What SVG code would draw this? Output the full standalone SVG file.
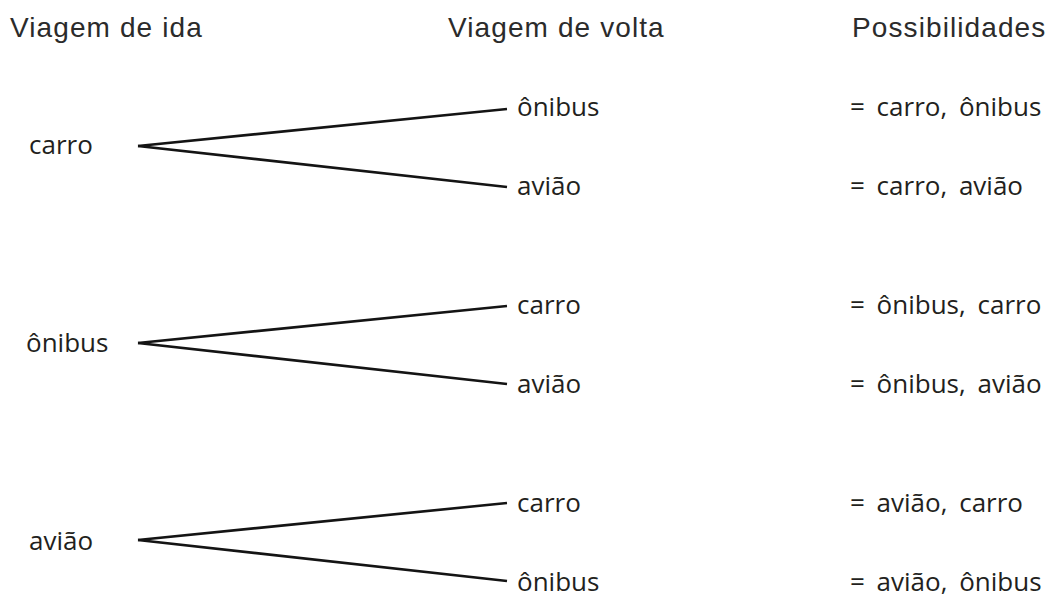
<svg xmlns="http://www.w3.org/2000/svg" width="1047" height="599" viewBox="0 0 1047 599">
<style>
.h{font-family:"Liberation Sans",Arial,sans-serif;font-size:28px;letter-spacing:1.1px;fill:#2b2b2b}
.t{font-family:"Open Sans","Noto Sans",sans-serif;font-size:26px;fill:#231f20}
.r{word-spacing:5px}
.c line{stroke:#141414;stroke-width:2.6;stroke-linecap:butt}
</style>
<rect width="1047" height="599" fill="#ffffff"/>
<g id="headers">
<text class="h" x="10" y="37">Viagem de ida</text>
<text class="h" x="448" y="37">Viagem de volta</text>
<text class="h" x="852" y="37">Possibilidades</text>
</g>
<g class="c" id="connectors">
<line x1="138" y1="146" x2="507" y2="109"/>
<line x1="138" y1="146" x2="507" y2="187"/>
<line x1="138" y1="343" x2="507" y2="306"/>
<line x1="138" y1="343" x2="507" y2="384"/>
<line x1="138" y1="540" x2="507" y2="503"/>
<line x1="138" y1="540" x2="507" y2="581"/>
</g>
<g id="n-carro"><text class="t" x="29" y="154">carro</text></g>
<g id="n-onibus"><text class="t" x="26" y="352">ônibus</text></g>
<g id="n-aviao"><text class="t" x="29" y="550">avião</text></g>
<g id="n-carro-onibus"><text class="t" x="517" y="116">ônibus</text></g>
<g id="n-carro-aviao"><text class="t" x="517" y="195">avião</text></g>
<g id="n-onibus-carro"><text class="t" x="517" y="314">carro</text></g>
<g id="n-onibus-aviao"><text class="t" x="517" y="393">avião</text></g>
<g id="n-aviao-carro"><text class="t" x="517" y="512">carro</text></g>
<g id="n-aviao-onibus"><text class="t" x="517" y="591">ônibus</text></g>
<g id="results">
<text class="t r" x="850" y="116">= carro, ônibus</text>
<text class="t r" x="850" y="195">= carro, avião</text>
<text class="t r" x="850" y="314">= ônibus, carro</text>
<text class="t r" x="850" y="393">= ônibus, avião</text>
<text class="t r" x="850" y="512">= avião, carro</text>
<text class="t r" x="850" y="591">= avião, ônibus</text>
</g>
</svg>
